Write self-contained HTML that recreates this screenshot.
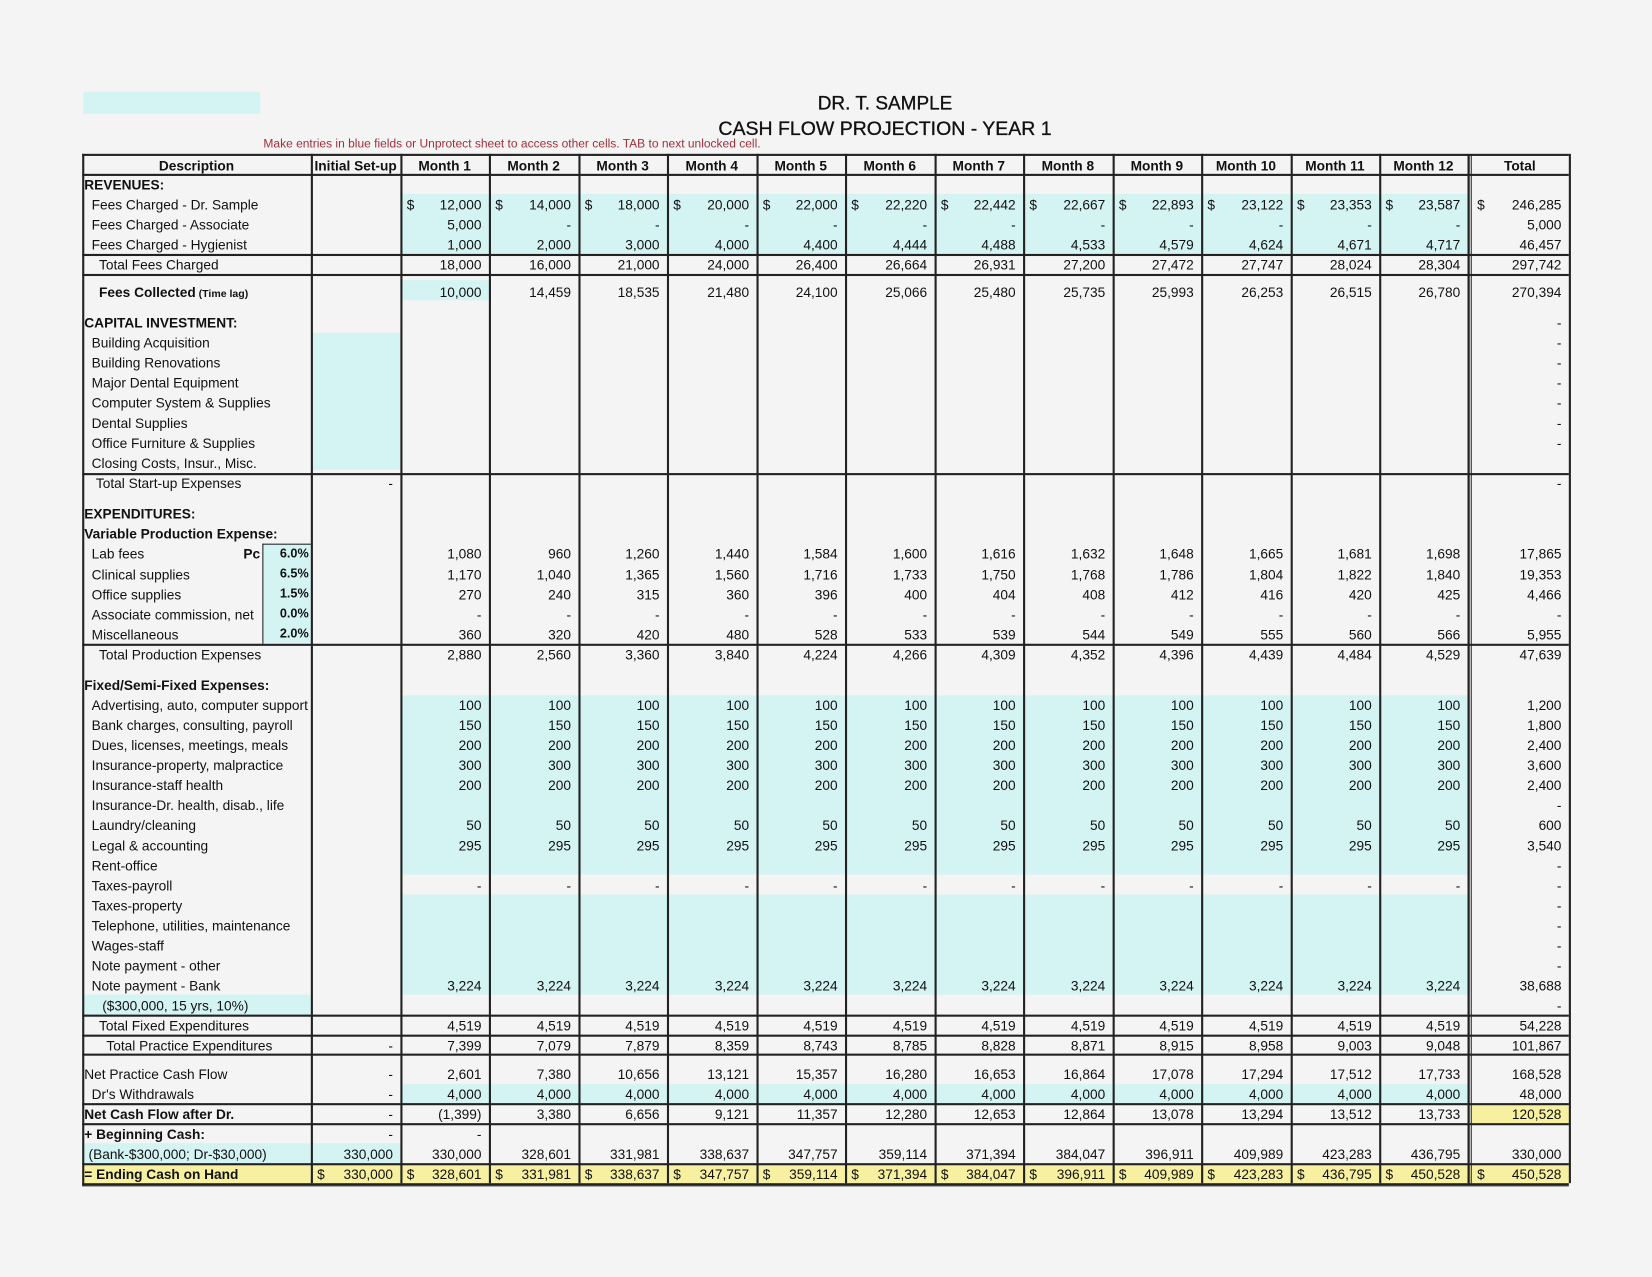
<!DOCTYPE html>
<html><head><meta charset="utf-8">
<style>
html,body{margin:0;padding:0;background:#f4f4f4;}
body{width:1652px;height:1277px;overflow:hidden;position:relative;}
#wrap{position:absolute;left:0;top:0;width:1568px;height:1212px;transform:scale(1.0536);transform-origin:0 0;font-family:"Liberation Sans",Arial,sans-serif;color:#111;}
.a{position:absolute;white-space:nowrap;}
.t{font-size:13px;line-height:19px;height:19px;}
.fill{position:absolute;}
.hl{position:absolute;height:1.5px;background:#222;}
.vl{position:absolute;width:1.5px;background:#222;}
</style></head>
<body>
<div id="wrap">
<div class="fill" style="left:79px;top:87px;width:168px;height:21px;background:#d4f3f3"></div>
<div class="a" style="left:0;width:1680px;text-align:center;top:88px;font-size:18px;-webkit-text-stroke:0.3px #111">DR. T. SAMPLE</div>
<div class="a" style="left:0;width:1680px;text-align:center;top:111px;font-size:18.5px;-webkit-text-stroke:0.3px #111">CASH FLOW PROJECTION - YEAR 1</div>
<div class="a" style="left:250px;top:131px;font-size:11.4px;color:#a0303a">Make entries in blue fields or Unprotect sheet to access other cells. TAB to next unlocked cell.</div>
<div id="grid"></div>
</div>
<script>
const months=['Month 1','Month 2','Month 3','Month 4','Month 5','Month 6','Month 7','Month 8','Month 9','Month 10','Month 11','Month 12'];
const feesDr=['12,000','14,000','18,000','20,000','22,000','22,220','22,442','22,667','22,893','23,122','23,353','23,587'];
const feesAssoc=['5,000','-','-','-','-','-','-','-','-','-','-','-'];
const feesHyg=['1,000','2,000','3,000','4,000','4,400','4,444','4,488','4,533','4,579','4,624','4,671','4,717'];
const totalFees=['18,000','16,000','21,000','24,000','26,400','26,664','26,931','27,200','27,472','27,747','28,024','28,304'];
const feesColl=['10,000','14,459','18,535','21,480','24,100','25,066','25,480','25,735','25,993','26,253','26,515','26,780'];
const lab=['1,080','960','1,260','1,440','1,584','1,600','1,616','1,632','1,648','1,665','1,681','1,698'];
const clin=['1,170','1,040','1,365','1,560','1,716','1,733','1,750','1,768','1,786','1,804','1,822','1,840'];
const offs=['270','240','315','360','396','400','404','408','412','416','420','425'];
const dash=['-','-','-','-','-','-','-','-','-','-','-','-'];
const misc=['360','320','420','480','528','533','539','544','549','555','560','566'];
const totProd=['2,880','2,560','3,360','3,840','4,224','4,266','4,309','4,352','4,396','4,439','4,484','4,529'];
const rep=v=>Array(12).fill(v);
const totFixed=rep('4,519');
const totPract=['7,399','7,079','7,879','8,359','8,743','8,785','8,828','8,871','8,915','8,958','9,003','9,048'];
const netPract=['2,601','7,380','10,656','13,121','15,357','16,280','16,653','16,864','17,078','17,294','17,512','17,733'];
const netAfter=['(1,399)','3,380','6,656','9,121','11,357','12,280','12,653','12,864','13,078','13,294','13,512','13,733'];
const begin=['330,000','328,601','331,981','338,637','347,757','359,114','371,394','384,047','396,911','409,989','423,283','436,795'];
const ending=['328,601','331,981','338,637','347,757','359,114','371,394','384,047','396,911','409,989','423,283','436,795','450,528'];
const rows=[
['REVENUES:',165,80,1,'',null,''],
['Fees Charged - Dr. Sample',184,87,0,'',feesDr,'246,285',1],
['Fees Charged - Associate',203,87,0,'',feesAssoc,'5,000'],
['Fees Charged - Hygienist',222,87,0,'',feesHyg,'46,457'],
['Total Fees Charged',241,94,0,'',totalFees,'297,742'],
['Fees Collected',267,94,1,'',feesColl,'270,394'],
['CAPITAL INVESTMENT:',296,80,1,'',null,'-'],
['Building Acquisition',315,87,0,'',null,'-'],
['Building Renovations',334,87,0,'',null,'-'],
['Major Dental Equipment',353,87,0,'',null,'-'],
['Computer System & Supplies',372,87,0,'',null,'-'],
['Dental Supplies',391,87,0,'',null,'-'],
['Office Furniture & Supplies',410,87,0,'',null,'-'],
['Closing Costs, Insur., Misc.',429,87,0,'',null,''],
['Total Start-up Expenses',448,91,0,'-',null,'-'],
['EXPENDITURES:',477,80,1,'',null,''],
['Variable Production Expense:',496,80,1,'',null,''],
['Lab fees',515,87,0,'',lab,'17,865'],
['Clinical supplies',535,87,0,'',clin,'19,353'],
['Office supplies',554,87,0,'',offs,'4,466'],
['Associate commission, net',573,87,0,'',dash,'-'],
['Miscellaneous',592,87,0,'',misc,'5,955'],
['Total Production Expenses',611,94,0,'',totProd,'47,639'],
['Fixed/Semi-Fixed Expenses:',640,80,1,'',null,''],
['Advertising, auto, computer support',659,87,0,'',rep('100'),'1,200'],
['Bank charges, consulting, payroll',678,87,0,'',rep('150'),'1,800'],
['Dues, licenses, meetings, meals',697,87,0,'',rep('200'),'2,400'],
['Insurance-property, malpractice',716,87,0,'',rep('300'),'3,600'],
['Insurance-staff health',735,87,0,'',rep('200'),'2,400'],
['Insurance-Dr. health, disab., life',754,87,0,'',null,'-'],
['Laundry/cleaning',773,87,0,'',rep('50'),'600'],
['Legal & accounting',792,87,0,'',rep('295'),'3,540'],
['Rent-office',811,87,0,'',null,'-'],
['Taxes-payroll',830,87,0,'',dash,'-'],
['Taxes-property',849,87,0,'',null,'-'],
['Telephone, utilities, maintenance',868,87,0,'',null,'-'],
['Wages-staff',887,87,0,'',null,'-'],
['Note payment - other',906,87,0,'',null,'-'],
['Note payment - Bank',925,87,0,'',rep('3,224'),'38,688'],
['($300,000, 15 yrs, 10%)',944,97,0,'',null,'-'],
['Total Fixed Expenditures',963,94,0,'',totFixed,'54,228'],
['Total Practice Expenditures',982,101,0,'-',totPract,'101,867'],
['Net Practice Cash Flow',1009,80,0,'-',netPract,'168,528'],
['Dr\'s Withdrawals',1028,87,0,'-',rep('4,000'),'48,000'],
['Net Cash Flow after Dr.',1047,80,1,'-',netAfter,'120,528'],
['+ Beginning Cash:',1066,80,1,'-',['-'].concat(Array(11).fill('')),''],
['(Bank-$300,000; Dr-$30,000)',1085,84,0,'330,000',begin,'330,000'],
['= Ending Cash on Hand',1104,80,1,'330,000',ending,'450,528',1]
];
const pcts=['6.0%','6.5%','1.5%','0.0%','2.0%'];
const colX=[78,295,380,464,549,633,718,802,887,971,1056,1140,1225,1309,1393,1489];
const g=document.getElementById('grid');
function box(cls,st,txt){const d=document.createElement('div');d.className=cls;d.style.cssText=st;if(txt!==undefined)d.textContent=txt;g.appendChild(d);return d;}
const cy='#d4f3f3',ye='#f6f0a0';
function fillR(x1,x2,y,h,c){const d=box('fill',`left:${x1}px;top:${y}px;width:${x2-x1}px;height:${h}px;background:${c}`);

}
fillR(380,1393,184,57,cy);
fillR(380,464,266,19,cy);
fillR(295,380,316,130,cy);
fillR(249,295,516,94,cy);
fillR(380,1393,660,170,cy);
fillR(380,1393,849,95,cy);
fillR(78,295,944,19,cy);
fillR(380,1393,1029,18,cy);
fillR(78,380,1085,19,cy);
fillR(1396,1489,1047,19,ye);
fillR(78,1489,1104,19,ye);
const hys=[146,165,241,260,449,611,963,982,1000,1047,1066,1104,1123];
hys.forEach(y=>{const d=box('hl',`left:78px;top:${y}px;width:1411px`);

});
box('hl','left:78px;top:1125px;width:1411px;height:1px');
colX.forEach((x,i)=>{const d=box('vl',`left:${x}px;top:146px;height:${i==0?979:977}px`);

});
box('vl','left:1396px;top:146px;height:977px;width:1px');
box('hl','left:249px;top:516px;width:46px;height:1px');
box('vl','left:249px;top:516px;height:95px;width:1px');
const hd=['Description','Initial Set-up'].concat(months);
hd.forEach((h,i)=>{const d=box('a t',`left:${colX[i]}px;width:${colX[i+1]-colX[i]}px;top:148px;text-align:center;font-weight:bold;font-size:13px`,h);

});
{const d=box('a t','left:1396px;width:93px;top:148px;text-align:center;font-weight:bold;font-size:13px','Total');

}
function num(x1,x2,y,v,bold,dol){
 if(v==='')return;
 const d=box('a t',`left:${x1}px;width:${x2-x1-7}px;top:${y+1}px;text-align:right;font-size:13px;${bold?'font-weight:bold;':''}`,v);
 
 
 if(dol){const s=box('a t',`left:${x1+6}px;top:${y+1}px;font-size:13px`,'$');
 
 }
}
rows.forEach(r=>{
 const [lab,y,lx,b,ini,vals,tot,dol]=r;
 const L=box('a t',`left:${lx}px;top:${y+1}px;font-size:13px;${b?'font-weight:bold;':''}`,lab);
 
 
 if(lab==='Fees Collected'){const s=document.createElement('span');s.style.fontSize='10px';s.textContent=' (Time lag)';L.appendChild(s);}
 num(295,380,y,ini,0,dol&&ini);
 if(vals)vals.forEach((v,i)=>num(colX[i+2],colX[i+3],y,v,0,dol));
 num(1396,1489,y,tot,0,dol);
});
pcts.forEach((p,i)=>{const d=box('a t',`left:249px;width:44px;top:${516+i*19}px;text-align:right;font-weight:bold;font-size:12px`,p);

});
{const d=box('a t','left:231px;top:516px;font-weight:bold;font-size:13px','Pc');

}
</script>
</body></html>
